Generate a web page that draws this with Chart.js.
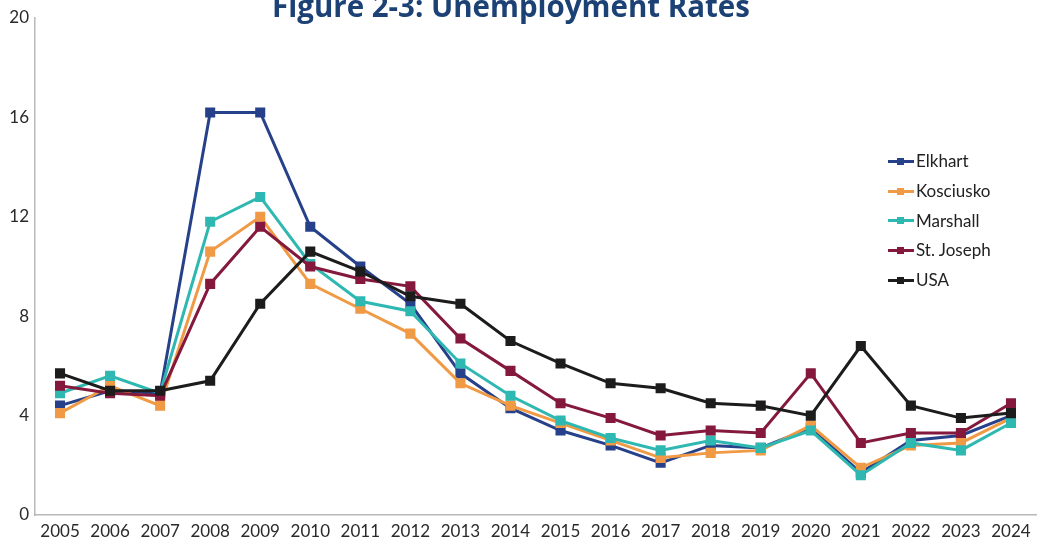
<!DOCTYPE html>
<html>
<head>
<meta charset="utf-8">
<script src="https://cdn.jsdelivr.net/npm/chart.js@4.4.1/dist/chart.umd.min.js"></script>
<style>
  html, body { margin: 0; padding: 0; background: #ffffff; }
  #wrap { position: relative; width: 1044px; height: 537px; }
  #legend {
    position: absolute; left: 888px; top: 146px;
    font-family: Lato, "Open Sans", sans-serif; font-size: 17px; color: #222;
  }
  .item { display: flex; align-items: center; height: 29.7px; }
  .sym { position: relative; width: 26px; height: 8px; margin-right: 2px; }
  .sym .ln { position: absolute; left: 0; right: 0; top: 3px; height: 3px; }
  .sym .mk { position: absolute; left: 9px; top: 1px; width: 7px; height: 7px; }
</style>
</head>
<body>
<div id="wrap">
  <canvas id="chart" width="1044" height="537"></canvas>
  <div id="legend"></div>
</div>
<script>
// Annual unemployment rates (%), 2005-2024
const years = ["2005","2006","2007","2008","2009","2010","2011","2012","2013","2014",
               "2015","2016","2017","2018","2019","2020","2021","2022","2023","2024"];
const elkhart    = [4.4, 5.0, 4.9, 16.2, 16.2, 11.6, 10.0, 8.5, 5.7, 4.3, 3.4, 2.8, 2.1, 2.8, 2.7, 3.5, 1.7, 3.0, 3.2, 4.0];
const kosciusko  = [4.1, 5.2, 4.4, 10.6, 12.0, 9.3, 8.3, 7.3, 5.3, 4.4, 3.7, 3.0, 2.3, 2.5, 2.6, 3.6, 1.9, 2.8, 2.9, 3.9];
const marshall   = [4.9, 5.6, 4.9, 11.8, 12.8, 10.1, 8.6, 8.2, 6.1, 4.8, 3.8, 3.1, 2.6, 3.0, 2.7, 3.4, 1.6, 2.9, 2.6, 3.7];
const stJoseph   = [5.2, 4.9, 4.8, 9.3, 11.6, 10.0, 9.5, 9.2, 7.1, 5.8, 4.5, 3.9, 3.2, 3.4, 3.3, 5.7, 2.9, 3.3, 3.3, 4.5];
const usa        = [5.7, 5.0, 5.0, 5.4, 8.5, 10.6, 9.8, 8.8, 8.5, 7.0, 6.1, 5.3, 5.1, 4.5, 4.4, 4.0, 6.8, 4.4, 3.9, 4.1];
const yTicks     = [0, 4, 8, 12, 16, 20];

const titleText = "Figure 2-3: Unemployment Rates";

const seriesNames  = ["Elkhart", "Kosciusko", "Marshall", "St. Joseph", "USA"];
const seriesValues = [elkhart, kosciusko, marshall, stJoseph, usa];
const seriesColors = ["#26418a", "#f09a45", "#2fb8b2", "#84193d", "#1c1c1c"];

const datasets = seriesNames.map((name, i) => ({
  label: name,
  data: seriesValues[i],
  borderColor: seriesColors[i],
  backgroundColor: seriesColors[i],
  borderWidth: 3,
  pointStyle: 'rect',
  pointRadius: 5,
  pointHoverRadius: 5,
  tension: 0,
  fill: false,
  order: 4 - i
}));

// Title is drawn centred near the top edge of the canvas
const titlePlugin = {
  id: 'topTitle',
  afterDraw(chart) {
    const ctx = chart.ctx;
    ctx.save();
    let size = 26;
    ctx.font = "bold " + size + "px 'Open Sans', Lato, sans-serif";
    const w = ctx.measureText(titleText).width;
    size = size * 478 / w;
    ctx.font = "bold " + size.toFixed(2) + "px 'Open Sans', Lato, sans-serif";
    ctx.fillStyle = "#1c4175";
    ctx.textAlign = "center";
    ctx.textBaseline = "alphabetic";
    ctx.fillText(titleText, 511, 17);
    ctx.restore();
  }
};

new Chart(document.getElementById('chart'), {
  type: 'line',
  data: { labels: years, datasets },
  options: {
    responsive: false,
    animation: false,
    layout: { padding: { top: 18, right: 2, left: 0, bottom: 0 } },
    plugins: {
      legend: { display: false },
      title: { display: false },
      tooltip: { enabled: false }
    },
    scales: {
      x: {
        offset: true,
        grid: { display: false, drawTicks: false },
        border: { display: true, color: '#b8b8b8', width: 1.5 },
        ticks: {
          color: '#2a2a2a',
          font: { family: 'Lato, "Open Sans", sans-serif', size: 17 },
          padding: 6,
          maxRotation: 0,
          autoSkip: false
        },
        afterFit(scale) { scale.height = 22; }
      },
      y: {
        min: 0,
        max: 20,
        grid: { display: false, drawTicks: false },
        border: { display: true, color: '#b8b8b8', width: 1.5 },
        afterBuildTicks(scale) { scale.ticks = yTicks.map(v => ({ value: v })); },
        ticks: {
          color: '#2a2a2a',
          font: { family: 'Lato, "Open Sans", sans-serif', size: 17 },
          padding: 6
        },
        afterFit(scale) { scale.width = 35; }
      }
    }
  },
  plugins: [titlePlugin]
});

// Legend list with line-and-square symbols
const legend = document.getElementById('legend');
seriesNames.forEach((name, i) => {
  const item = document.createElement('div');
  item.className = 'item';
  const sym = document.createElement('div');
  sym.className = 'sym';
  const ln = document.createElement('div');
  ln.className = 'ln';
  ln.style.background = seriesColors[i];
  const mk = document.createElement('div');
  mk.className = 'mk';
  mk.style.background = seriesColors[i];
  sym.appendChild(ln);
  sym.appendChild(mk);
  const txt = document.createElement('span');
  txt.textContent = name;
  item.appendChild(sym);
  item.appendChild(txt);
  legend.appendChild(item);
});
</script>
</body>
</html>
